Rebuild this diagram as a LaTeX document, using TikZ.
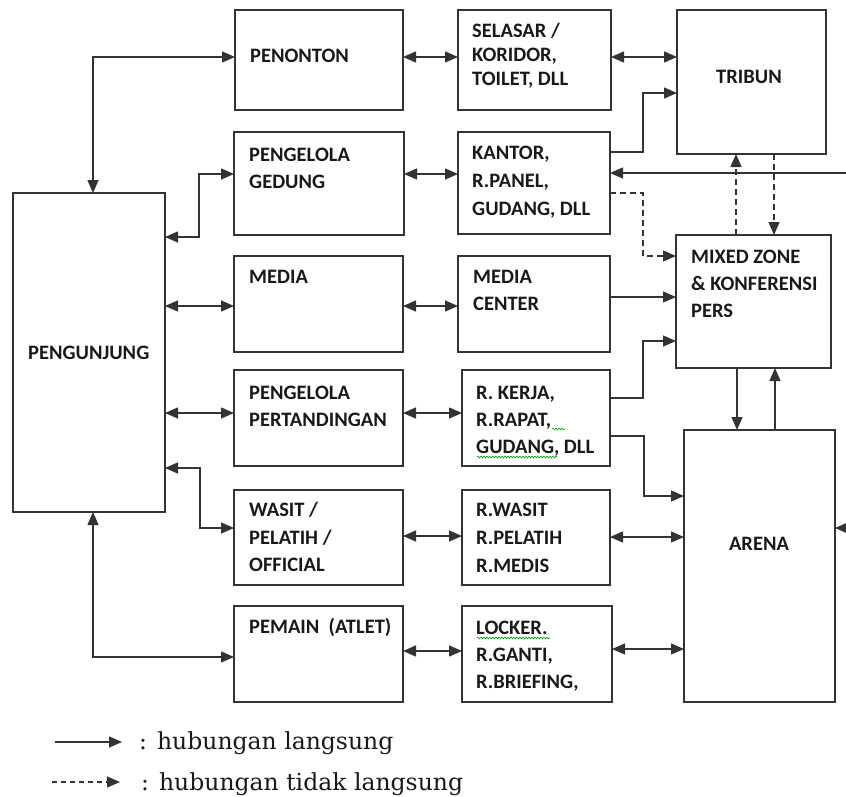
\documentclass[tikz,border=0pt]{standalone}
\usepackage{fontspec}
\setmainfont{Carlito}
\newfontfamily\legfont{DejaVu Serif}
\usetikzlibrary{arrows.meta,calc,decorations.pathmorphing}
\newcommand\mkbox[5]{\node[box, minimum width={(#4-#2)*1pt}, minimum height={(#5-#3)*1pt}] (#1) at ({(#2+#4)/2},{(#3+#5)/2}) {};}
\begin{document}
\begin{tikzpicture}[x=1pt,y=-1pt,
  box/.style={draw=black!80, line width=1.4pt, inner sep=0pt, outer sep=0pt},
  lbl/.style={font=\fontsize{20.5}{24}\selectfont\bfseries, inner sep=0pt, text height=13pt, text depth=0pt, text=black!90, anchor=west},
  con/.style={draw=black!80, line width=1.4pt},
  dbl/.style={con,{Triangle[length=13pt,width=11pt]}-{Triangle[length=13pt,width=11pt]}},
  one/.style={con,-{Triangle[length=13pt,width=11pt]}},
  dsh/.style={one,dash pattern=on 6pt off 4pt},
  squig/.style={draw=green!60!black, line width=0.6pt, decorate, decoration={snake,amplitude=0.9pt,segment length=3pt}},
  leg/.style={font=\legfont\fontsize{23.5}{27}\selectfont, inner sep=0pt, anchor=base west, text=black!90}
]
\useasboundingbox (0,0) rectangle (846,796);
% boxes
\mkbox{pon}{235}{10}{403}{110}
\mkbox{sel}{458}{10}{611}{110}
\mkbox{tri}{677}{10}{826}{154}
\mkbox{ged}{234}{132}{404}{235}
\mkbox{kan}{458}{132}{610}{234}
\mkbox{pgj}{13}{193}{165}{512}
\mkbox{med}{234}{256}{403}{352}
\mkbox{mc}{458}{256}{610}{352}
\mkbox{mix}{676}{235}{831}{368}
\mkbox{pp}{234}{370}{403}{466}
\mkbox{rk}{462}{370}{610}{466}
\mkbox{are}{684}{430}{835}{702}
\mkbox{was}{234}{490}{403}{585}
\mkbox{rw}{462}{490}{610}{585}
\mkbox{pem}{234}{606}{403}{702}
\mkbox{loc}{462}{606}{612}{702}
% texts
\node[lbl] (tpon) at (250,56) {PENONTON};
\node[lbl] (tsel1) at (472,31) {SELASAR /};
\node[lbl] (tsel2) at (472,55) {KORIDOR,};
\node[lbl] (tsel3) at (472,79) {TOILET, DLL};
\node[lbl,anchor=center] (ttri) at (749,77) {TRIBUN};
\node[lbl] (tged1) at (249,155) {PENGELOLA};
\node[lbl] (tged2) at (249,182) {GEDUNG};
\node[lbl] (tkan1) at (472,153) {KANTOR,};
\node[lbl] (tkan2) at (472,181) {R.PANEL,};
\node[lbl] (tkan3) at (472,209) {GUDANG, DLL};
\node[lbl] (tpgj) at (28,353) {PENGUNJUNG};
\node[lbl] (tmed) at (249,277) {MEDIA};
\node[lbl] (tmc1) at (473,277) {MEDIA};
\node[lbl] (tmc2) at (473,304) {CENTER};
\node[lbl] (tmix1) at (691,257) {MIXED ZONE};
\node[lbl] (tmix2) at (691,284) {\& KONFERENSI};
\node[lbl] (tmix3) at (691,311) {PERS};
\node[lbl] (tpp1) at (249,393) {PENGELOLA};
\node[lbl] (tpp2) at (249,420) {PERTANDINGAN};
\node[lbl] (trk1) at (476,393) {R. KERJA,};
\node[lbl] (trk2) at (476,420) {R.RAPAT,};
\node[lbl] (trk3) at (476,447) {GUDANG, DLL};
\node[lbl,anchor=center] (tare) at (759,544) {ARENA};
\node[lbl] (twas1) at (249,510) {WASIT /};
\node[lbl] (twas2) at (249,538) {PELATIH /};
\node[lbl] (twas3) at (249,565) {OFFICIAL};
\node[lbl] (trw1) at (476,510) {R.WASIT};
\node[lbl] (trw2) at (476,538) {R.PELATIH};
\node[lbl] (trw3) at (476,566) {R.MEDIS};
\node[lbl] (tpem) at (249,627) {PEMAIN\ \ (ATLET)};
\node[lbl] (tloc1) at (476,628) {LOCKER.};
\node[lbl] (tloc2) at (476,655) {R.GANTI,};
\node[lbl] (tloc3) at (476,682) {R.BRIEFING,};
% spell-check squiggles
\draw[squig] (477,457) -- (557,457);
\draw[squig] (552,429) -- (565,429);
\draw[squig] (477,638) -- (550,638);
% left connectors
\draw[dbl] (pgj.north -| 93,0) |- (pon.west |- 0,57);
\draw[dbl] (pgj.east |- 0,237) -- (199,237) |- (ged.west |- 0,174);
\draw[dbl] (pgj.east |- 0,306) -- (med.west |- 0,306);
\draw[dbl] (pgj.east |- 0,413) -- (pp.west |- 0,413);
\draw[dbl] (pgj.east |- 0,468) -- (200,468) |- (was.west |- 0,528);
\draw[dbl] (pgj.south -| 93,0) |- (pem.west |- 0,657);
% middle connectors
\draw[dbl] (pon.east |- 0,57) -- (sel.west |- 0,57);
\draw[dbl] (ged.east |- 0,174) -- (kan.west |- 0,174);
\draw[dbl] (med.east |- 0,306) -- (mc.west |- 0,306);
\draw[dbl] (pp.east |- 0,413) -- (rk.west |- 0,413);
\draw[dbl] (was.east |- 0,536) -- (rw.west |- 0,536);
\draw[dbl] (pem.east |- 0,651) -- (loc.west |- 0,651);
% right connectors
\draw[dbl] (sel.east |- 0,57) -- (tri.west |- 0,57);
\draw[one] (kan.east |- 0,152) -- (643,152) |- (tri.west |- 0,93);
\coordinate (edgeA) at (846,173);
\coordinate (edgeB) at (846,528);
\draw[one] (edgeA) -- (kan.east |- edgeA);
\draw[dsh] (kan.east |- 0,193) -- (643,193) |- (mix.west |- 0,256);
\draw[dsh] (mix.north -| 736,0) -- (tri.south -| 736,0);
\draw[dsh] (tri.south -| 774,0) -- (mix.north -| 774,0);
\draw[one] (mc.east |- 0,297) -- (mix.west |- 0,297);
\draw[one] (rk.east |- 0,398) -- (643,398) |- (mix.west |- 0,341);
\draw[one] (rk.east |- 0,436) -- (644,436) |- (are.west |- 0,496);
\draw[dbl] (rw.east |- 0,537) -- (are.west |- 0,537);
\draw[dbl] (loc.east |- 0,649) -- (are.west |- 0,649);
\draw[one] (mix.south -| 737,0) -- (are.north -| 737,0);
\draw[one] (are.north -| 775,0) -- (mix.south -| 775,0);
\draw[one] (edgeB) -- (are.east |- edgeB);
% legend
\coordinate (la1) at (55,742);
\coordinate (la2) at (122,742);
\coordinate (lb1) at (52,782);
\coordinate (lb2) at (120,782);
\draw[one] (la1) -- (la2);
\draw[dsh,dash pattern=on 5pt off 4pt] (lb1) -- (lb2);
\node[leg] (lega) at (139,749) {: hubungan langsung};
\node[leg] (legb) at (141,790) {: hubungan tidak langsung};
\end{tikzpicture}
\end{document}
